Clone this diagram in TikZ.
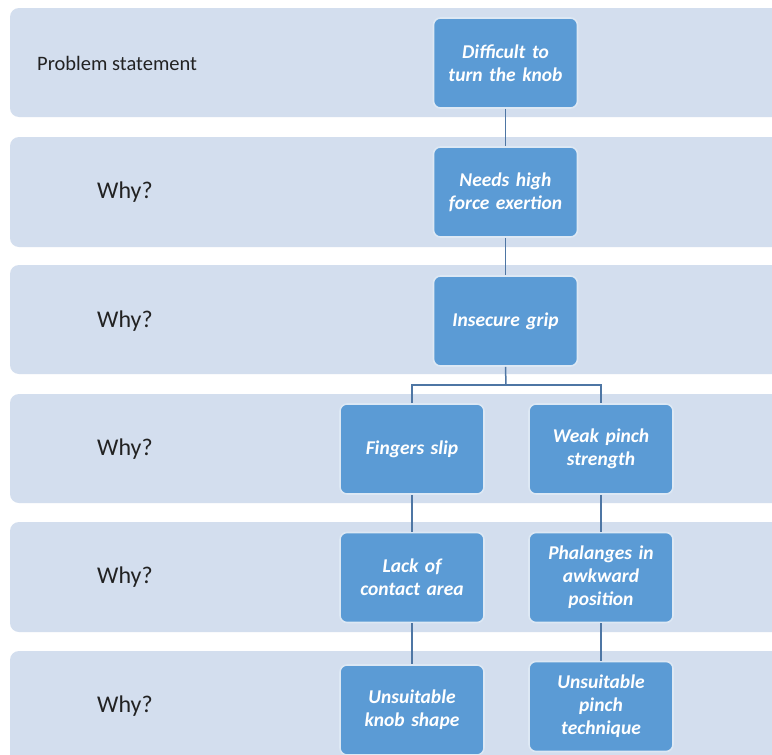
\documentclass[tikz,border=0pt]{standalone}
\usepackage{fontspec}
\setmainfont{Carlito}
\definecolor{bandc}{HTML}{D3DEEE}
\definecolor{boxc}{HTML}{5B9BD5}
\definecolor{boxedge}{HTML}{DDE8F4}
\definecolor{linec}{HTML}{4E76A4}
\definecolor{labc}{HTML}{222222}
\tikzset{
  band/.style={fill=bandc, draw=none, rounded corners=9pt},
  wbox/.style={fill=boxc, draw=boxedge, line width=1.6pt, rounded corners=7pt,
    minimum width=144pt, minimum height=90pt, text width=138pt, align=center,
    text=white, font=\fontsize{19.5}{23}\selectfont\bfseries\itshape, inner sep=0pt},
  rowlab/.style={anchor=west, text=labc, inner sep=0pt},
  whylab/.style={rowlab, font=\fontsize{24}{26}\selectfont},
  conn/.style={draw=linec, line width=1.5pt}
}
\begin{document}
\begin{tikzpicture}[x=1pt,y=-1pt]
\useasboundingbox (0,0) rectangle (772,755);
\clip (0,0) rectangle (772,755);
\fill[white] (0,0) rectangle (772,755);
% bands
\path[band] (10,8) rectangle (790,117);
\path[band] (10,137) rectangle (790,247);
\path[band] (10,265) rectangle (790,374);
\path[band] (10,394) rectangle (790,503);
\path[band] (10,522) rectangle (790,632);
\path[band] (10,651) rectangle (790,775);
% row labels
\node[rowlab, font=\fontsize{20.5}{24}\selectfont] (l1) at (37,63) {Problem statement};
\node[whylab] (l2) at (97,192) {Why?};
\node[whylab] (l3) at (97,321) {Why?};
\node[whylab] (l4) at (97,449) {Why?};
\node[whylab] (l5) at (97,577) {Why?};
\node[whylab] (l6) at (97,706) {Why?};
% junction
\coordinate (j) at (506,385);
% boxes
\node[wbox] (b1) at (505.5,63) {Difficult to\\turn the knob};
\node[wbox] (b2) at (505.5,192) {Needs high\\force exertion};
\node[wbox] (b3) at (505.5,321) {Insecure grip};
\node[wbox] (b4) at (412,449) {Fingers slip};
\node[wbox] (b5) at (601,449) {Weak pinch\\strength};
\node[wbox] (b6) at (412,577.5) {Lack of\\contact area};
\node[wbox] (b7) at (601,577.5) {Phalanges in\\awkward\\position};
\node[wbox] (b8) at (412,710) {Unsuitable\\knob shape};
\node[wbox] (b9) at (601,706.5) {Unsuitable\\pinch\\technique};
% connectors
\path[conn] (b1.south) -- (b2.north);
\path[conn] (b2.south) -- (b3.north);
\path[conn] (b3.south) -- (j);
\path[conn] (b4.north) |- (j) -| (b5.north);
\path[conn] (b4.south) -- (b6.north);
\path[conn] (b5.south) -- (b7.north);
\path[conn] (b6.south) -- (b8.north);
\path[conn] (b7.south) -- (b9.north);
\end{tikzpicture}
\end{document}
